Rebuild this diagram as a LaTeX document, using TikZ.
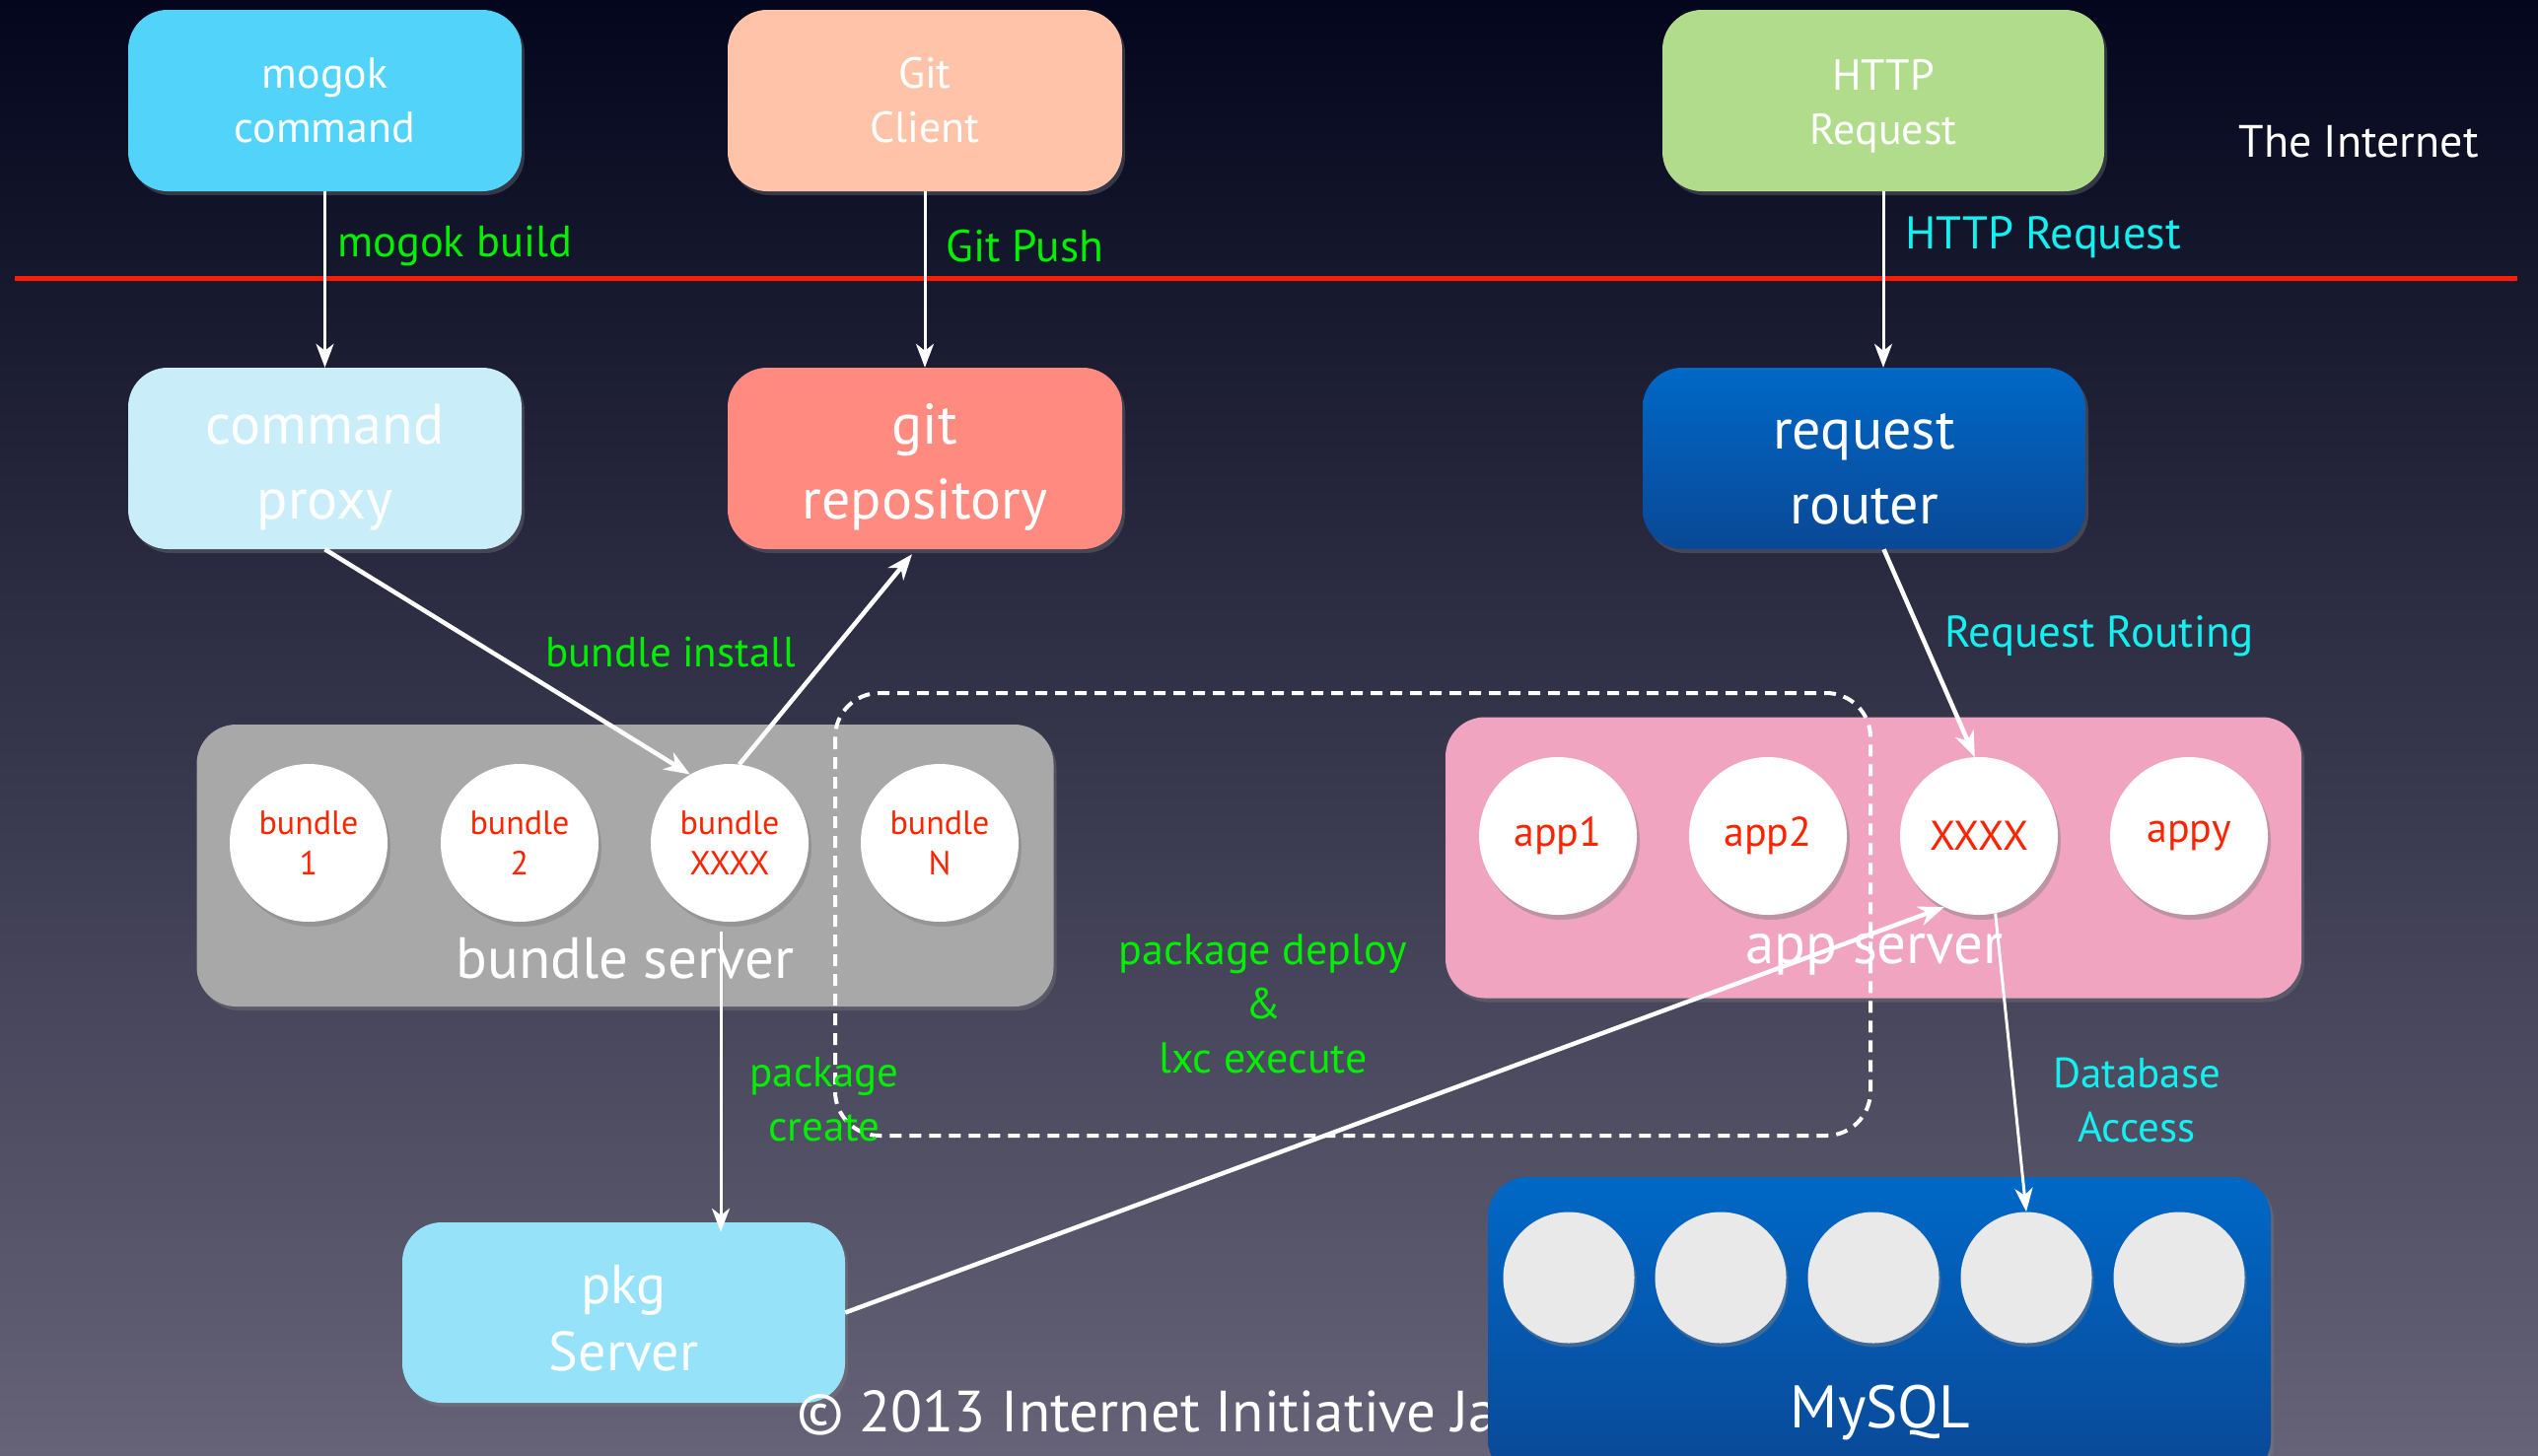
\documentclass[tikz,border=0pt]{standalone}
\usepackage{fontspec}
\setmainfont{PT Sans}
\usetikzlibrary{arrows.meta,shadows,calc}
\definecolor{bgtop}{RGB}{3,6,28}
\definecolor{bgmid}{RGB}{52,53,78}
\definecolor{bgbot}{RGB}{102,99,120}
\definecolor{mogokc}{RGB}{82,212,250}
\definecolor{gitc}{RGB}{254,195,168}
\definecolor{httpc}{RGB}{176,220,140}
\definecolor{proxyc}{RGB}{201,238,250}
\definecolor{repoc}{RGB}{255,138,128}
\definecolor{bluetop}{RGB}{0,104,198}
\definecolor{bluebot}{RGB}{10,72,150}
\definecolor{bsc}{RGB}{168,168,168}
\definecolor{asc}{RGB}{241,164,192}
\definecolor{pkgc}{RGB}{150,227,249}
\definecolor{lgreen}{RGB}{0,240,0}
\definecolor{lcyan}{RGB}{20,240,240}
\definecolor{tred}{RGB}{255,36,0}
\definecolor{lred}{RGB}{255,26,0}
\definecolor{dbc}{RGB}{233,233,233}
\newcommand{\upstrut}{\rule{0pt}{58pt}}
\begin{document}
\begin{tikzpicture}[x=1pt,y=-1pt,
  box/.style={rounded corners=40pt, inner sep=0pt, align=center, text=white,
    drop shadow={shadow xshift=3pt, shadow yshift=-4pt, opacity=0.35}},
  topfont/.style={font=\fontsize{44}{55}\selectfont},
  midfont/.style={font=\fontsize{58}{76}\selectfont},
  ball/.style={circle, fill=white, inner sep=0pt, minimum size=160pt, align=center,
    text=tred, drop shadow={shadow xshift=3pt, shadow yshift=-5pt, opacity=0.45}},
  dbball/.style={circle, fill=dbc, inner sep=0pt, minimum size=133pt,
    drop shadow={shadow xshift=2pt, shadow yshift=-4pt, opacity=0.45}},
  lbl/.style={inner sep=0pt, align=center, font=\fontsize{43}{55}\selectfont},
  arr/.style={draw=white, line width=3pt, -{Stealth[length=24pt,width=18pt,inset=7pt]}},
  thickarr/.style={draw=white, line width=4.5pt, -{Stealth[length=26pt,width=20pt,inset=8pt]}},
]
\useasboundingbox (0,0) rectangle (2574,1476);
\shade[top color=bgtop, middle color=bgmid, bottom color=bgbot] (0,0) rectangle (2574,1476);

% boundary line
\coordinate (lineL) at (15,282);
\coordinate (lineR) at (2553,282);
\draw[lred, line width=5pt] (lineL) -- (lineR);

% top row
\node[box, topfont, fill=mogokc, minimum width=399pt, minimum height=184pt] (mogok) at (329.5,102) {mogok\\command};
\node[box, topfont, fill=gitc, minimum width=400pt, minimum height=184pt] (gitcl) at (938,102) {Git\\Client};
\node[box, topfont, fill=httpc, minimum width=448pt, minimum height=184pt] (http) at (1910,102) {\rule{0pt}{42pt}HTTP\\Request};
\node[lbl, text=white, font=\fontsize{46}{55}\selectfont] (inet) at (2392,144) {The Internet};

% second row
\node[box, midfont, fill=proxyc, minimum width=399pt, minimum height=184pt] (proxy) at (329.5,465) {\upstrut command\\proxy};
\node[box, midfont, fill=repoc, minimum width=400pt, minimum height=184pt] (repo) at (938,465) {\upstrut git\\repository};
\node[box, midfont, top color=bluetop, bottom color=bluebot, minimum width=449pt, minimum height=184pt] (router) at (1890.5,465) {\upstrut request\\router};

% bundle server
\node[box, fill=bsc, minimum width=869pt, minimum height=286pt] (bserver) at (634,878) {};
\node[lbl, text=white, font=\fontsize{59}{70}\selectfont] (bslabel) at (634,972) {bundle server};
\node[ball, font=\fontsize{34}{41}\selectfont] (b1) at (313,855) {bundle\\1};
\node[ball, font=\fontsize{34}{41}\selectfont] (b2) at (527,855) {bundle\\2};
\node[ball, font=\fontsize{34}{41}\selectfont] (bx) at (740,855) {bundle\\XXXX};
\node[ball, font=\fontsize{34}{41}\selectfont] (bn) at (953,855) {bundle\\N};

% app server
\node[box, fill=asc, minimum width=868pt, minimum height=285pt] (aserver) at (1900,870) {};
\node[lbl, text=white, font=\fontsize{59}{70}\selectfont] (aslabel) at (1901,968) {app server};
\node[ball, font=\fontsize{42}{50}\selectfont] (a1) at (1580,848) {app1};
\node[ball, font=\fontsize{42}{50}\selectfont] (a2) at (1793,848) {app2};
\node[ball, font=\fontsize{42}{50}\selectfont] (ax) at (2007,848) {XXXX};
\node[ball, font=\fontsize{42}{50}\selectfont] (ay) at (2220,848) {appy};

% pkg server
\node[box, font=\fontsize{56}{68}\selectfont, fill=pkgc, minimum width=449pt, minimum height=183pt] (pkg) at (632.5,1331.5) {\rule{0pt}{50pt}pkg\\Server};

% footer
\node[inner sep=0pt, anchor=west, text=white, font=\fontsize{59}{70}\selectfont] (footer) at (808,1433) {© 2013 Internet Initiative Ja};

% MySQL
\node[box, top color=bluetop, bottom color=bluebot, minimum width=794pt, minimum height=306pt] (mysql) at (1906,1347) {};
\node[lbl, text=white, font=\fontsize{61}{70}\selectfont] (mylabel) at (1907,1433) {MySQL};
\node[dbball] (m1) at (1591,1296) {};
\node[dbball] (m2) at (1745,1296) {};
\node[dbball] (m3) at (1900,1296) {};
\node[dbball] (m4) at (2055,1296) {};
\node[dbball] (m5) at (2210,1296) {};

% dashed deployment region
\draw[white, line width=4pt, dash pattern=on 12pt off 8pt, rounded corners=45pt] (847,703) rectangle (1897,1152);

% connectors
\draw[arr] (mogok.south) -- (proxy.north);
\draw[arr] (gitcl.south) -- (repo.north);
\draw[arr] (http.south) -- (http.south |- router.north);
\draw[thickarr] (proxy.south) -- (bx.120);
\draw[thickarr] (bx.83) -- ([xshift=-13pt,yshift=-5pt]repo.south);
\draw[thickarr] ([xshift=20pt]router.south) -- (ax.93);
\draw[arr] ([shift={(-9,10)}]bx.south) -- ([shift={(-9,10)}]bx.south |- pkg.north);
\draw[thickarr] (pkg.east) -- (ax.-116);
\draw[arr] (ax.-78) -- (m4.north);

% labels
\node[lbl, text=lgreen, anchor=west, font=\fontsize{44.5}{55}\selectfont] (lmb) at (342,249) {mogok build};
\node[lbl, text=lgreen, anchor=west, font=\fontsize{45.5}{55}\selectfont] (lgp) at (959,250) {Git Push};
\node[lbl, text=lcyan, anchor=west, font=\fontsize{46.5}{55}\selectfont] (lhr) at (1932,241) {HTTP Request};
\node[lbl, text=lgreen] (lbi) at (680,662) {bundle install};
\node[lbl, text=lcyan, font=\fontsize{45}{55}\selectfont] (lrr) at (2129,645) {Request Routing};
\node[lbl, text=lgreen, font=\fontsize{44}{55}\selectfont] (lpd) at (1281,1018) {package deploy\\\&\\lxc execute};
\node[lbl, text=lgreen] (lpc) at (836,1115) {package\\create};
\node[lbl, text=lcyan] (lda) at (2167,1116) {Database\\Access};
\end{tikzpicture}
\end{document}
